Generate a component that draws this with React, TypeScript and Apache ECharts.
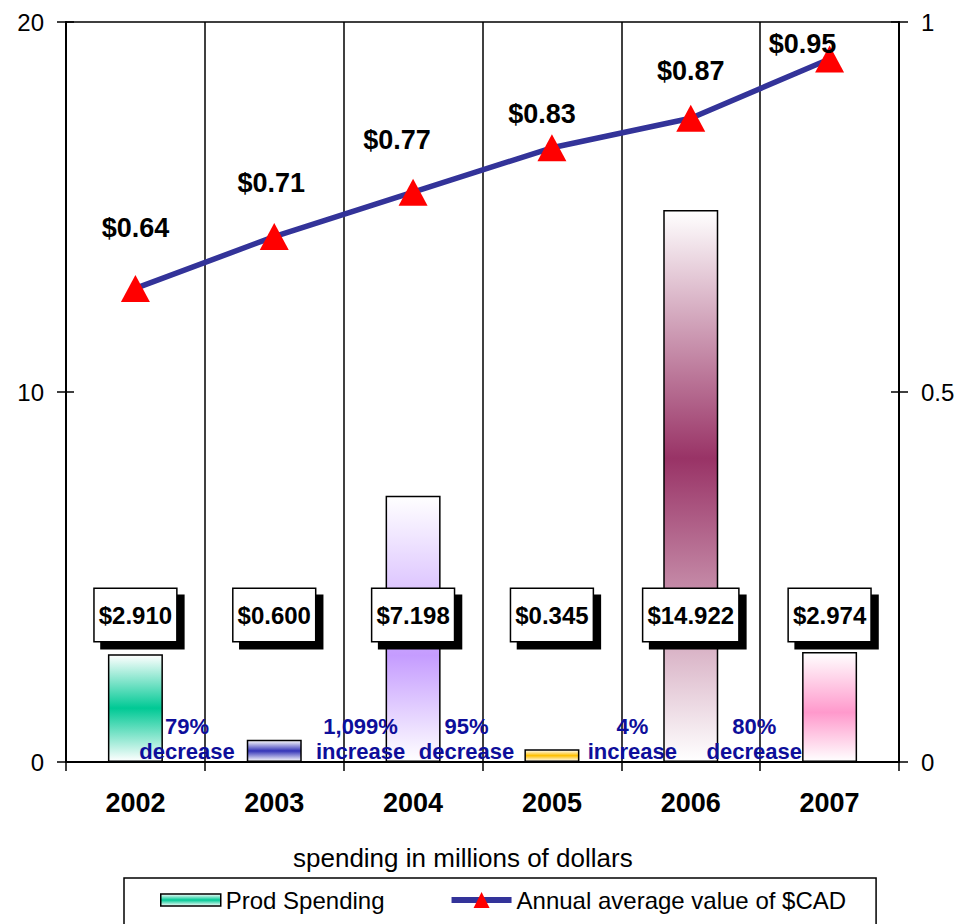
import React, { useEffect, useRef } from 'react';
import * as echarts from 'echarts';

// ---- data ----
const years = ['2002', '2003', '2004', '2005', '2006', '2007'];
const prodSpending = [2.91, 0.6, 7.198, 0.345, 14.922, 2.974];
const cadValue = [0.64, 0.71, 0.77, 0.83, 0.87, 0.95];
const changePct = ['79%', '1,099%', '95%', '4%', '80%'];
const changeDir = ['decrease', 'increase', 'decrease', 'increase', 'decrease'];
const leftAxis = { min: 0, max: 20, interval: 10 };
const rightAxis = { min: 0, max: 1, interval: 0.5 };

// ---- style / layout ----
const FONT = '"Liberation Sans", Arial, Helvetica, sans-serif';
const barColors = ['#00C995', '#3434B8', '#C59CFF', '#FFC000', '#993366', '#FF99CC'];
const barPeak = [0.5, 0.5, 0.6, 0.5, 0.45, 0.55];
const changeLabelPos = [0.871, 2.122, 2.885, 4.079, 4.957];
const cadLabelOffsets = [
  [0, -60],
  [-3, -54],
  [-16, -52],
  [-10, -34],
  [0, -47],
  [-27, -15],
];

function grad(color: string, peak: number) {
  return new echarts.graphic.LinearGradient(0, 0, 0, 1, [
    { offset: 0, color: '#ffffff' },
    { offset: peak, color },
    { offset: 1, color: '#ffffff' },
  ]);
}

export default function App() {
  const ref = useRef<HTMLDivElement>(null);
  useEffect(() => {
    if (!ref.current) return;
    const chart = echarts.init(ref.current, null, { renderer: 'svg' });
    const axisLineStyle = { color: '#000', width: 2 };
    const option: any = {
      animation: false,
      backgroundColor: '#ffffff',
      textStyle: { fontFamily: FONT },
      title: {
        text: 'spending in millions of dollars',
        left: 288,
        top: 840,
        textStyle: { fontSize: 26, fontWeight: 'normal', color: '#000', fontFamily: FONT },
      },
      grid: {
        left: 66,
        right: 73,
        top: 22,
        bottom: 162,
        show: true,
        borderColor: '#000',
        borderWidth: 1.5,
        backgroundColor: 'transparent',
      },
      legend: {
        left: 124,
        top: 878,
        orient: 'horizontal',
        padding: [10, 30, 22, 36],
        borderColor: '#000',
        borderWidth: 1.5,
        itemWidth: 60,
        itemHeight: 20,
        itemGap: 64,
        textStyle: { fontSize: 24, color: '#000', fontFamily: FONT },
        data: [
          {
            name: 'Prod Spending',
            icon: 'path://M0,0H60V12H0Z',
            itemStyle: { color: grad('#00C995', 0.5), borderColor: '#000', borderWidth: 1.5 },
          },
          {
            name: 'Annual average value of $CAD',
            lineStyle: { color: '#333399', width: 6 },
            itemStyle: { color: '#FF0000' },
          },
        ],
      },
      xAxis: [
        {
          type: 'category',
          data: years,
          position: 'bottom',
          boundaryGap: true,
          axisLine: { show: true, lineStyle: axisLineStyle },
          axisTick: { show: true, length: 9, lineStyle: { color: '#000', width: 1.5 } },
          axisLabel: { fontSize: 27, fontWeight: 'bold', color: '#000', margin: 27, fontFamily: FONT },
          splitLine: { show: true, lineStyle: { color: '#000', width: 1.5 } },
        },
        { type: 'value', min: 0, max: years.length, show: false },
      ],
      yAxis: [
        {
          type: 'value',
          position: 'left',
          ...leftAxis,
          axisLine: { show: true, lineStyle: axisLineStyle },
          axisTick: { show: true, length: 9, lineStyle: { color: '#000', width: 1.5 } },
          axisLabel: { fontSize: 24, color: '#000', margin: 22, fontFamily: FONT },
          splitLine: { show: false },
        },
        {
          type: 'value',
          position: 'right',
          ...rightAxis,
          axisLine: { show: true, lineStyle: axisLineStyle },
          axisTick: { show: true, length: 9, lineStyle: { color: '#000', width: 1.5 } },
          axisLabel: { fontSize: 24, color: '#000', margin: 22, fontFamily: FONT },
          splitLine: { show: false },
        },
        {
          type: 'value',
          position: 'left',
          ...leftAxis,
          axisLine: { show: false },
          axisTick: { show: true, inside: true, length: 8, lineStyle: { color: '#000', width: 1.5 } },
          axisLabel: { show: false },
          splitLine: { show: false },
        },
        {
          type: 'value',
          position: 'right',
          ...rightAxis,
          axisLine: { show: false },
          axisTick: { show: true, inside: true, length: 8, lineStyle: { color: '#000', width: 1.5 } },
          axisLabel: { show: false },
          splitLine: { show: false },
        },
      ],
      series: [
        {
          type: 'bar',
          name: 'Prod Spending',
          barWidth: 55,
          xAxisIndex: 0,
          yAxisIndex: 0,
          itemStyle: { color: grad('#00C995', 0.5), borderColor: '#000', borderWidth: 1.5 },
          data: prodSpending.map((v, i) => ({
            value: v,
            itemStyle: { color: grad(barColors[i], barPeak[i]), borderColor: '#000', borderWidth: 1.5 },
          })),
          label: {
            show: true,
            position: 'insideBottom',
            distance: 121,
            formatter: (p: any) => '$' + Number(p.value).toFixed(3),
            fontSize: 24,
            fontWeight: 'bold',
            color: '#000',
            fontFamily: FONT,
            backgroundColor: '#fff',
            borderColor: '#000',
            borderWidth: 1.5,
            padding: [13, 4, 13, 4],
            lineHeight: 26,
            shadowColor: '#000',
            shadowOffsetX: 7,
            shadowOffsetY: 7,
            shadowBlur: 0,
          },
          z: 2,
        },
        {
          type: 'line',
          name: 'Annual average value of $CAD',
          xAxisIndex: 0,
          yAxisIndex: 1,
          data: cadValue.map((v, i) => ({ value: v, label: { offset: cadLabelOffsets[i] } })),
          symbol: 'triangle',
          symbolSize: [29, 27],
          itemStyle: { color: '#FF0000' },
          lineStyle: { color: '#333399', width: 5.5 },
          label: {
            show: true,
            position: 'inside',
            formatter: (p: any) => '$' + Number(p.value).toFixed(2),
            fontSize: 27,
            fontWeight: 'bold',
            color: '#000',
            fontFamily: FONT,
          },
          z: 5,
        },
        {
          type: 'scatter',
          xAxisIndex: 1,
          yAxisIndex: 0,
          symbolSize: 1,
          silent: true,
          clip: false,
          itemStyle: { color: 'rgba(0,0,0,0)', opacity: 1 },
          data: changeLabelPos.map((x, i) => ({
            value: [x, 0],
            name: changePct[i] + '\n' + changeDir[i],
          })),
          label: {
            show: true,
            position: 'top',
            distance: -2,
            formatter: (p: any) => p.name,
            fontSize: 22,
            fontWeight: 'bold',
            color: '#0E0E9A',
            lineHeight: 25,
            align: 'center',
            fontFamily: FONT,
          },
          labelLayout: { hideOverlap: false },
          z: 6,
        },
      ],
    };
    chart.setOption(option);
    return () => chart.dispose();
  }, []);
  return (
    <div
      ref={ref}
      style={{ position: 'fixed', left: 0, top: 0, width: 972, height: 924, background: '#fff' }}
    />
  );
}
